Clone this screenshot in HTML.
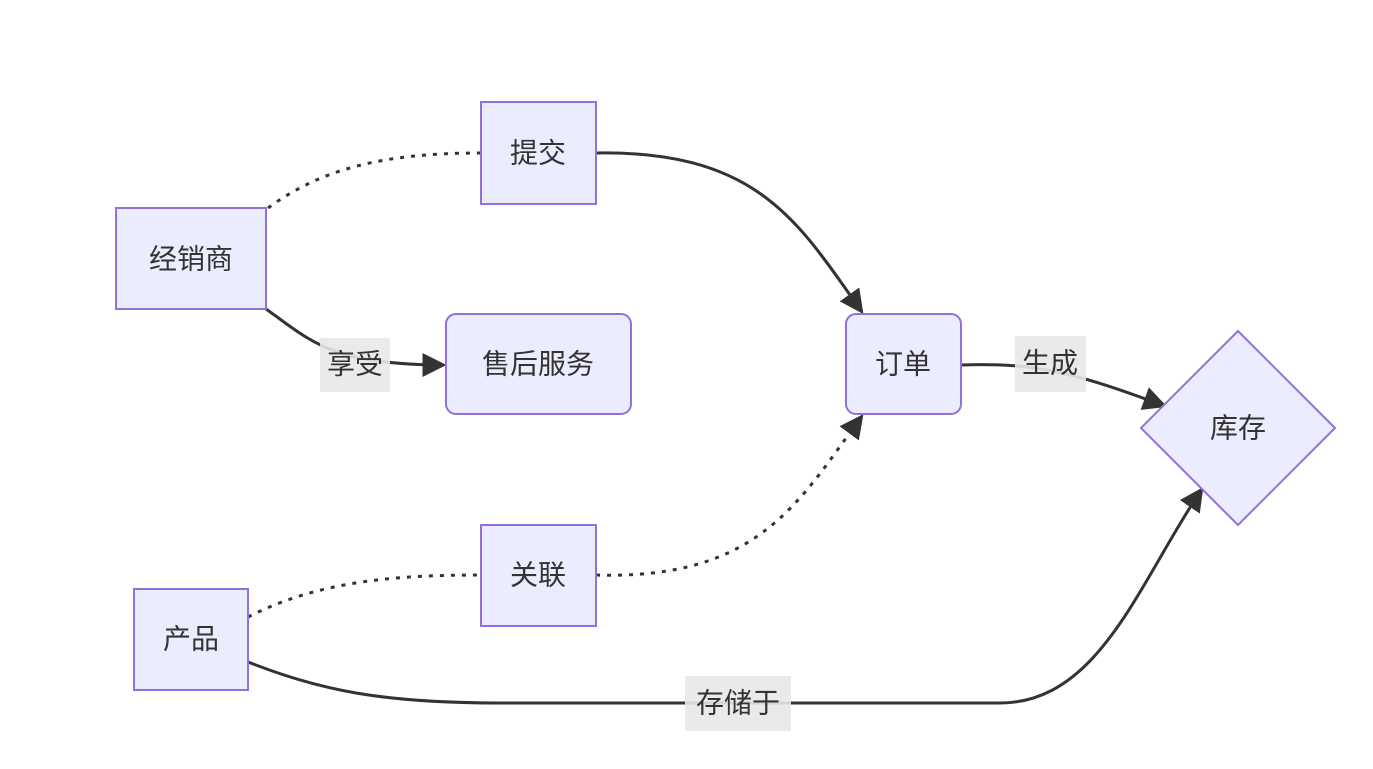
<!DOCTYPE html>
<html><head><meta charset="utf-8"><style>
html,body{margin:0;padding:0;background:#fff;}
svg{display:block;}
text{font-family:"Liberation Sans","Noto Sans CJK SC",sans-serif;fill:#333;}
</style></head><body>
<svg width="1373" height="769" viewBox="0 0 1373 769" xmlns="http://www.w3.org/2000/svg">
<defs>
<marker id="a" viewBox="0 0 10 10" refX="9" refY="5" markerWidth="8" markerHeight="8" markerUnits="userSpaceOnUse" orient="auto">
<path d="M0,0 L10,5 L0,10 z" fill="#333"/>
</marker>
<marker id="b" viewBox="0 0 10 10" refX="9" refY="5" markerWidth="24" markerHeight="24" markerUnits="userSpaceOnUse" orient="auto">
<path d="M0,0 L10,5 L0,10 z" fill="#333"/>
</marker>
</defs>
<g fill="none" stroke="#333" stroke-width="3">
<path d="M268,208 C320,170 380,153 481,153" stroke-dasharray="4,7"/>
<path d="M596,153 C760,150 800,225 862,312" marker-end="url(#b)"/>
<path d="M266,309 C310,340 330,365 444,365" marker-end="url(#b)"/>
<path d="M961,365 C1040,362 1080,375 1165,406" marker-end="url(#b)"/>
<path d="M596,575 C760,580 800,500 862,416" stroke-dasharray="4,7" marker-end="url(#b)"/>
<path d="M248,617 C320,580 400,575 481,575" stroke-dasharray="4,7"/>
<path d="M248,662 C320,690 380,703 500,703 L1000,703 C1100,703 1140,580 1202,489" marker-end="url(#b)"/>
</g>
<g fill="#ececff" stroke="#9370db" stroke-width="2">
<rect x="116" y="208" width="150" height="101"/>
<rect x="481" y="102" width="115" height="102"/>
<rect x="446" y="314" width="185" height="100" rx="10"/>
<rect x="846" y="314" width="115" height="100" rx="10"/>
<polygon points="1238,331 1335,428 1238,525 1141,428"/>
<rect x="481" y="525" width="115" height="101"/>
<rect x="134" y="589" width="114" height="101"/>
</g>
<g fill="#e8e8e8" opacity="0.9">
<rect x="320" y="338" width="70" height="54"/>
<rect x="1015" y="336" width="71" height="56"/>
<rect x="685" y="676" width="106" height="55"/>
</g>
<g font-size="28" text-anchor="middle" dominant-baseline="central">
<text x="191" y="259">经销商</text>
<text x="538" y="153">提交</text>
<text x="538" y="364">售后服务</text>
<text x="903" y="364">订单</text>
<text x="1238" y="428">库存</text>
<text x="538" y="575">关联</text>
<text x="191" y="639">产品</text>
<text x="355" y="364">享受</text>
<text x="1050" y="363">生成</text>
<text x="738" y="703">存储于</text>
</g>
</svg>
</body></html>
